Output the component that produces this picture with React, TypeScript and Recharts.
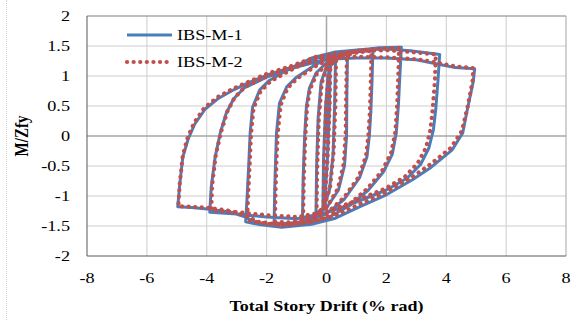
import {
  LineChart,
  Line,
  XAxis,
  YAxis,
  ReferenceLine,
} from "recharts";

const seriesNames = ["IBS-M-1", "IBS-M-2"];
const xTicks = [-8, -6, -4, -2, 0, 2, 4, 6, 8];
const yTicks = [-2, -1.5, -1, -0.5, 0, 0.5, 1, 1.5, 2];

// drift (% rad), M/Zfy  -- specimen IBS-M-1, traced cycle by cycle
const m1Path: [number, number][] = [
  [0, 0], [0.04, 0.6], [0.08, 1.1], [0.12, 1.3],
  [0.1, 0.5], [0.03, -0.4], [-0.05, -1.0], [-0.12, -1.22],
  [-0.1, -0.4], [-0.03, 0.5], [0.05, 1.0], [0.15, 1.18], [0.3, 1.25],
  [0.27, 0.5], [0.22, -0.3], [0.1, -0.9], [-0.1, -1.2], [-0.35, -1.3],
  [-0.33, -0.5], [-0.28, 0.3], [-0.18, 0.9], [0, 1.15], [0.3, 1.28], [0.7, 1.37],
  [0.68, 0.7], [0.67, 0], [0.6, -0.5], [0.4, -0.9], [0, -1.2], [-0.4, -1.33], [-0.8, -1.38],
  [-0.78, -0.7], [-0.73, 0], [-0.67, 0.5], [-0.57, 0.8], [-0.35, 1.05], [0, 1.22], [0.5, 1.35], [1, 1.4], [1.55, 1.43],
  [1.52, 0.9], [1.48, 0.4], [1.43, 0], [1.35, -0.35], [1.1, -0.7], [0.6, -1.05], [0, -1.3], [-0.7, -1.42], [-1.3, -1.46], [-1.75, -1.45],
  [-1.73, -0.9], [-1.7, -0.4], [-1.67, 0.05], [-1.57, 0.55], [-1.33, 0.82], [-1, 0.98], [-0.4, 1.18], [0.3, 1.35], [1, 1.43], [1.8, 1.47], [2.5, 1.48],
  [2.45, 1.0], [2.4, 0.5], [2.33, 0.05], [2.2, -0.3], [1.9, -0.6], [1.4, -0.9], [0.8, -1.15], [0, -1.38], [-0.8, -1.48], [-1.5, -1.52], [-2.2, -1.48], [-2.7, -1.43],
  [-2.65, -1.0], [-2.6, -0.5], [-2.55, 0.05], [-2.47, 0.48], [-2.23, 0.77], [-1.9, 0.93], [-1.3, 1.1], [-0.5, 1.3], [0.3, 1.4], [1.2, 1.44], [2, 1.45], [2.8, 1.42], [3.78, 1.36],
  [3.72, 0.9], [3.65, 0.45], [3.57, 0.1], [3.42, -0.2], [3.15, -0.47], [2.7, -0.7], [2, -0.9], [1, -1.1], [0, -1.28], [-1, -1.38], [-2, -1.35], [-3, -1.3], [-3.9, -1.27],
  [-3.85, -0.85], [-3.72, -0.35], [-3.55, 0.05], [-3.35, 0.38], [-3.1, 0.62], [-2.75, 0.8], [-2, 0.98], [-1, 1.15], [0, 1.28], [1, 1.3], [2, 1.3], [3, 1.27], [3.7, 1.2], [4.3, 1.14], [4.95, 1.12],
  [4.9, 0.9], [4.72, 0.48], [4.55, 0.05], [4.2, -0.23], [3.5, -0.52], [2.87, -0.73], [2, -0.98], [1.1, -1.18], [0.3, -1.37], [-0.5, -1.47], [-1.5, -1.52], [-2.3, -1.46], [-2.7, -1.35], [-3.2, -1.27], [-3.9, -1.22], [-4.5, -1.19], [-4.97, -1.18],
  [-4.9, -0.8], [-4.8, -0.35], [-4.62, -0.05], [-4.4, 0.2], [-4.05, 0.45], [-3.6, 0.63], [-3.1, 0.77], [-2.6, 0.89], [-1.9, 1.03], [-1.13, 1.15], [-0.33, 1.3], [0.3, 1.35],
];

// specimen IBS-M-2
const m2Path: [number, number][] = [
  [0, 0], [0.05, 0.65], [0.09, 1.15], [0.13, 1.32],
  [0.11, 0.55], [0.04, -0.35], [-0.04, -0.95], [-0.1, -1.2],
  [-0.08, -0.45], [-0.02, 0.45], [0.06, 0.95], [0.16, 1.2], [0.32, 1.27],
  [0.3, 0.55], [0.24, -0.25], [0.12, -0.85], [-0.08, -1.18], [-0.33, -1.3],
  [-0.31, -0.55], [-0.26, 0.25], [-0.16, 0.88], [0.02, 1.17], [0.32, 1.3], [0.68, 1.38],
  [0.66, 0.75], [0.64, 0.05], [0.58, -0.45], [0.38, -0.88], [0.02, -1.18], [-0.38, -1.32], [-0.78, -1.37],
  [-0.76, -0.75], [-0.71, -0.05], [-0.65, 0.48], [-0.55, 0.78], [-0.33, 1.03], [0.02, 1.2], [0.5, 1.33], [1, 1.39], [1.5, 1.42],
  [1.48, 0.92], [1.45, 0.42], [1.4, 0.02], [1.32, -0.33], [1.08, -0.68], [0.58, -1.03], [0.02, -1.28], [-0.68, -1.4], [-1.28, -1.44], [-1.72, -1.43],
  [-1.7, -0.92], [-1.67, -0.42], [-1.63, 0.03], [-1.53, 0.52], [-1.3, 0.8], [-0.98, 0.96], [-0.38, 1.16], [0.32, 1.34], [1.02, 1.42], [1.82, 1.46], [2.42, 1.47],
  [2.4, 1.02], [2.36, 0.52], [2.3, 0.07], [2.16, -0.28], [1.86, -0.58], [1.36, -0.88], [0.78, -1.13], [0.02, -1.35], [-0.78, -1.45], [-1.48, -1.49], [-2.18, -1.45], [-2.65, -1.4],
  [-2.62, -1.02], [-2.57, -0.52], [-2.52, 0.03], [-2.44, 0.46], [-2.2, 0.75], [-1.87, 0.91], [-1.27, 1.08], [-0.48, 1.28], [0.32, 1.38], [1.22, 1.42], [2.02, 1.43], [2.82, 1.4], [3.65, 1.36],
  [3.62, 0.92], [3.55, 0.47], [3.47, 0.1], [3.32, -0.2], [3.05, -0.45], [2.62, -0.68], [1.95, -0.88], [0.98, -1.08], [0.02, -1.26], [-0.98, -1.35], [-1.98, -1.32], [-2.98, -1.27], [-3.85, -1.24],
  [-3.82, -0.82], [-3.7, -0.32], [-3.52, 0.07], [-3.32, 0.4], [-3.07, 0.64], [-2.72, 0.82], [-1.98, 1.0], [-0.98, 1.17], [0.02, 1.3], [1.02, 1.32], [2.02, 1.31], [3.02, 1.28], [3.72, 1.22], [4.32, 1.16], [4.9, 1.13],
  [4.88, 0.92], [4.72, 0.5], [4.52, 0.08], [4.15, -0.2], [3.45, -0.48], [2.82, -0.7], [1.95, -0.95], [1.05, -1.15], [0.28, -1.33], [-0.5, -1.43], [-1.48, -1.48], [-2.28, -1.43], [-2.7, -1.33], [-3.2, -1.25], [-3.9, -1.2], [-4.5, -1.18], [-4.95, -1.17],
  [-4.9, -0.78], [-4.8, -0.32], [-4.64, -0.03], [-4.42, 0.22], [-4.08, 0.47], [-3.63, 0.65], [-3.12, 0.79], [-2.62, 0.9], [-1.93, 1.05], [-1.15, 1.17], [-0.35, 1.32], [0.3, 1.37],
];

const m1Data = m1Path.map(([x, y]) => ({ x, y }));
const m2Data = m2Path.map(([x, y]) => ({ x, y }));

const gridX = xTicks.filter((v) => v !== 0 && v !== -8 && v !== 8);
const gridY = yTicks.filter((v) => v !== 0 && v !== -2 && v !== 2);

const BLUE = "#4a7ebb";
const RED = "#c0504d";
const GRID = "#cdcdcd";
const FONT = "'Liberation Serif', 'Times New Roman', serif";

const XTick = (props: any) => {
  const { x, y, payload } = props;
  return (
    <text
      transform={`translate(${x},${y + 19}) scale(1.3,1)`}
      textAnchor="middle"
      fontFamily={FONT}
      fontSize={14}
      fill="#000"
    >
      {payload.value}
    </text>
  );
};

const YTick = (props: any) => {
  const { x, y, payload } = props;
  return (
    <text
      transform={`translate(${x - 9},${y + 5}) scale(1.3,1)`}
      textAnchor="end"
      fontFamily={FONT}
      fontSize={14}
      fill="#000"
    >
      {payload.value}
    </text>
  );
};

const XTitle = (props: any) => {
  const { x, y, width } = props.viewBox;
  return (
    <text
      transform={`translate(${x + width / 2},${y + 55}) scale(1.2,1)`}
      textAnchor="middle"
      fontFamily={FONT}
      fontSize={15}
      fontWeight="bold"
      fill="#000"
    >
      Total Story Drift (% rad)
    </text>
  );
};

const YTitle = (props: any) => {
  const { x, y, height } = props.viewBox;
  return (
    <text
      transform={`translate(${x - 9},${y + height / 2}) rotate(-90) scale(1,1.2)`}
      textAnchor="middle"
      fontFamily={FONT}
      fontSize={15}
      fontWeight="bold"
      fill="#000"
    >
      M/Zfy
    </text>
  );
};

export default function App() {
  return (
    <div
      style={{
        position: "absolute",
        left: 0,
        top: 0,
        width: 572,
        height: 320,
        background: "#fff",
      }}
    >
      <div
        style={{
          position: "absolute",
          left: 6,
          top: 0,
          height: 320,
          borderLeft: "1px dotted #d4d4d4",
        }}
      />
      <LineChart
        width={572}
        height={320}
        margin={{ top: 16, right: 6, bottom: 24, left: 37 }}
      >
        <XAxis
          type="number"
          dataKey="x"
          domain={[-8, 8]}
          ticks={xTicks}
          allowDataOverflow
          height={40}
          stroke="#595959"
          tickLine={false}
          tick={<XTick />}
          label={XTitle}
        />
        <YAxis
          type="number"
          dataKey="y"
          domain={[-2, 2]}
          ticks={yTicks}
          allowDataOverflow
          width={50}
          stroke="#595959"
          tickLine={false}
          tick={<YTick />}
          label={YTitle}
        />
        {/* gridlines: plain solid light gray */}
        {gridX.map((v) => (
          <ReferenceLine key={`gx${v}`} x={v} stroke={GRID} strokeWidth={1} />
        ))}
        {gridY.map((v) => (
          <ReferenceLine key={`gy${v}`} y={v} stroke={GRID} strokeWidth={1} />
        ))}
        <ReferenceLine y={2} stroke="#7f7f7f" />
        <ReferenceLine x={8} stroke="#a6a6a6" />
        <ReferenceLine y={0} stroke="#a6a6a6" strokeWidth={1.5} />
        <ReferenceLine x={0} stroke="#a6a6a6" strokeWidth={1.5} />
        <Line
          data={m1Data}
          dataKey="y"
          name={seriesNames[0]}
          type="linear"
          stroke={BLUE}
          strokeWidth={3}
          strokeLinejoin="round"
          dot={false}
          isAnimationActive={false}
        />
        <Line
          data={m2Data}
          dataKey="y"
          name={seriesNames[1]}
          type="linear"
          stroke={RED}
          strokeWidth={4.2}
          strokeDasharray="0.1 6.5"
          strokeLinecap="round"
          dot={false}
          isAnimationActive={false}
        />
      </LineChart>
      <svg
        width={150}
        height={60}
        style={{ position: "absolute", left: 120, top: 18, pointerEvents: "none" }}
      >
        <line x1={7} y1={17} x2={52} y2={17} stroke={BLUE} strokeWidth={3} />
        <line
          x1={7}
          y1={44}
          x2={52}
          y2={44}
          stroke={RED}
          strokeWidth={4.2}
          strokeDasharray="0.1 6.5"
          strokeLinecap="round"
        />
        <text
          transform="translate(57,22) scale(1.3,1)"
          fontFamily={FONT}
          fontSize={14}
          fill="#000"
        >
          {seriesNames[0]}
        </text>
        <text
          transform="translate(57,49) scale(1.3,1)"
          fontFamily={FONT}
          fontSize={14}
          fill="#000"
        >
          {seriesNames[1]}
        </text>
      </svg>
    </div>
  );
}
